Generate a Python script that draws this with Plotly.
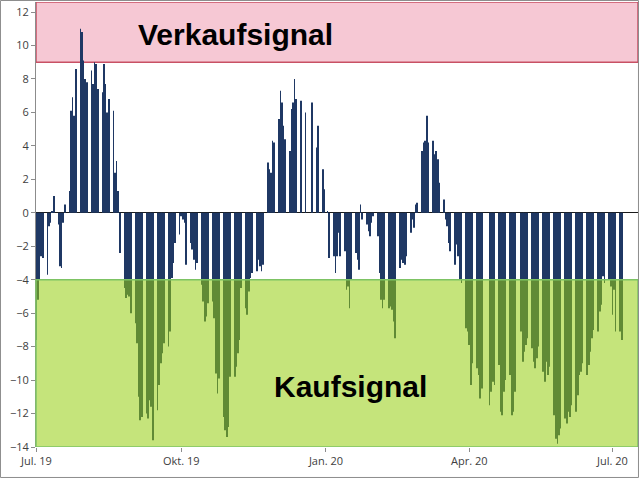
import pandas as pd
import plotly.graph_objects as go

# Indikatorwerte je Handelstag (Mo-Fr), None = kein Wert (Feiertag)
q3_2019 = [
    -7.6, -5.2, -4.0, -2.6, -2.7,
    -3.7, -0.8, -0.6, 0.05, 1.0,
    -0.7, -3.2, -3.3, -0.6, 0.5,
    1.3, 6.1, 6.9, 5.8, 8.6,
    11.0, 10.8, 9.1, 8.0, 7.8,
    8.5, 7.7, 9.0, 8.9, 7.4,
    7.2, 8.9, 7.7, 6.0, 6.8,
    6.1, 2.4, 3.1, 1.3, -2.4,
    -4.5, -5.1, -4.9, -5.0, -6.0,
    -6.6, -7.8, -11.0, -12.4, -12.2,
    -12.0, -12.3, -11.2, -11.6, -13.6,
    -11.8, -10.3, -9.0, -8.4, -7.8,
    -8.0, -7.1, -3.9, -3.0, -1.8,
]
q4_2019 = [
    -1.3, -0.2, -0.4, -0.6, -3.1,
    -1.8, -2.2, -2.8, -3.4, -3.0,
    -4.3, -5.3, -6.5, -6.2, -5.4,
    -5.3, -6.3, -9.6, -10.8, -9.9,
    -12.2, -13.0, -13.4, -12.8, -9.8,
    -9.8, -9.2, -8.4, -7.6, -4.5,
    -5.7, -6.1, -4.7, -3.9, -3.6,
    -3.5, -2.8, -3.2, -3.5, -3.1,
    3.0, 2.6, 2.4, 4.3, 4.2,
    5.6, 7.3, 6.6, 5.2, 4.4,
    3.7, 6.2, 6.6, 8.0, 6.8,
    6.7, None, None, 6.0, None,
    6.6, None, None, 3.9, 5.2,
]
q1_2020 = [
    2.6, 1.4, None, 0.1, -2.7,
    -2.6, -3.6, -2.6, -1.2, -2.6,
    -2.3, -4.6, -4.4, -5.7, -4.0,
    -2.4, -2.8, -3.4, 0.5, -0.4,
    -0.7, -1.1, -1.4, -0.6, -0.2,
    -1.4, -3.6, -5.2, -5.7, -5.2,
    -5.7, -5.6, -5.8, -6.5, -7.5,
    -3.3, -2.8, -3.0, -3.1, -2.6,
    -1.2, -0.4, -0.9, 0.5, 0.6,
    3.7, 4.2, 4.3, 5.8, 4.2,
    4.3, 3.5, 3.7, 3.2, 1.8,
    0.8, -0.4, -0.8, -1.8, -2.3,
    -3.1, -1.9, -2.6, -4.0, -4.2,
]
q2_2020 = [
    -6.9, -7.1, -7.9, -10.3, -9.0,
    -9.3, -9.7, -11.1, -10.5, None,
    None, -11.5, -10.7, -10.1, -10.3,
    -9.1, -11.9, -12.1, -10.7, -10.0,
    -9.7, -12.1, -11.9, -10.7, None,
    -7.1, -8.9, -8.3, -7.9, -7.5,
    -8.1, -8.9, -9.3, -8.7, -8.0,
    -9.5, -10.1, -8.9, -9.7, -9.2,
    -12.1, -13.5, -13.8, -13.3, -12.9,
    -12.3, -12.6, -11.9, -12.2, -11.5,
    -11.9, -10.9, -9.7, -9.5, -9.0,
    -9.7, -9.1, -8.3, -7.5, -7.0,
    -7.1, -5.9, -5.5, -3.8, -4.2,
    -4.0, -4.4, -6.1, -4.6, -7.1,
    -7.1, -7.6,
]
werte = q3_2019 + q4_2019 + q1_2020 + q2_2020
tage = pd.bdate_range("2019-07-01", periods=len(werte))

tick_daten = ["2019-07-01", "2019-10-01", "2020-01-01", "2020-04-01", "2020-07-01"]
tick_texte = ["Jul. 19", "Okt. 19", "Jan. 20", "Apr. 20", "Jul. 20"]

verkauf_grenze = 9
kauf_grenze = -4
y_min, y_max = -14, 12.6

DAY_MS = 86400000

fig = go.Figure()
fig.add_trace(go.Bar(
    x=tage,
    y=werte,
    width=0.42 * DAY_MS,
    marker=dict(color="#1F3864", line=dict(width=0)),
))

shapes = [
    # Verkaufsignal-Zone (hinter den Balken)
    dict(type="rect", xref="paper", yref="y", x0=0, x1=1, y0=verkauf_grenze, y1=y_max,
         fillcolor="rgb(246,200,212)", line=dict(color="rgb(200,80,100)", width=1.5), layer="below"),
    # Kaufsignal-Zone (halbtransparent über den Balken)
    dict(type="rect", xref="paper", yref="y", x0=0, x1=1, y0=y_min, y1=kauf_grenze,
         fillcolor="rgb(150,205,15)", opacity=0.55, line=dict(width=0), layer="above"),
    dict(type="rect", xref="paper", yref="y", x0=0, x1=1, y0=y_min, y1=kauf_grenze,
         fillcolor="rgba(0,0,0,0)", line=dict(color="rgb(125,195,100)", width=1.5), layer="above"),
    # Rahmen um das Diagramm
    dict(type="rect", xref="paper", yref="paper", x0=-0.0590, x1=1.0008, y0=-0.0685, y1=1.0034,
         fillcolor="rgba(0,0,0,0)", line=dict(color="#8c8c8c", width=1), layer="above"),
]

fig.update_layout(
    width=640,
    height=479,
    margin=dict(l=36, r=2, t=2, b=32, autoexpand=False),
    paper_bgcolor="white",
    plot_bgcolor="white",
    showlegend=False,
    shapes=shapes,
    annotations=[
        dict(text="<b>Verkaufsignal</b>", xref="paper", yref="paper", x=0.331, y=0.926,
             xanchor="center", yanchor="middle", showarrow=False,
             font=dict(family="Liberation Sans", size=30, color="black")),
        dict(text="<b>Kaufsignal</b>", xref="paper", yref="paper", x=0.523, y=0.135,
             xanchor="center", yanchor="middle", showarrow=False,
             font=dict(family="Liberation Sans", size=30, color="black")),
    ],
)

fig.update_xaxes(
    type="date",
    automargin=False,
    range=["2019-06-30 18:00", "2020-07-17 06:00"],
    tickvals=tick_daten,
    ticktext=tick_texte,
    ticks="outside",
    ticklen=4,
    tickcolor="#8c8c8c",
    showgrid=False,
    showline=False,
    tickfont=dict(family="Open Sans", size=11, color="#404040"),
)
fig.update_yaxes(
    automargin=False,
    range=[y_min, y_max],
    tickvals=list(range(-14, 13, 2)),
    ticks="outside",
    ticklen=4,
    tickcolor="#8c8c8c",
    showgrid=False,
    showline=True,
    linecolor="#8c8c8c",
    linewidth=1,
    zeroline=True,
    zerolinecolor="#1a1a1a",
    zerolinewidth=1,
    tickfont=dict(family="Open Sans", size=11, color="#404040"),
)

# Seitenrand des Browsers entfernen, damit die Grafik genau 640x479 füllt
fig.write_html(
    "out.html",
    config={"displayModeBar": False},
    post_script="document.body.style.margin='0';document.body.style.overflow='hidden';",
)
